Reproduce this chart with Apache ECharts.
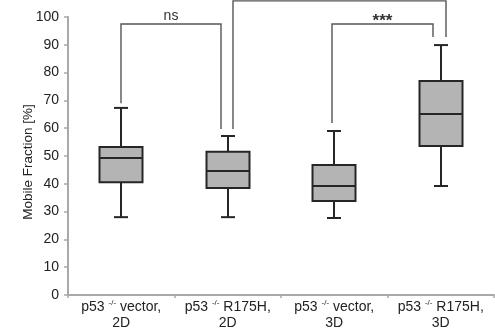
<html>
<head>
<meta charset="utf-8">
<title>Mobile fraction boxplot</title>
<script src="https://cdn.jsdelivr.net/npm/echarts@6/dist/echarts.min.js"></script>
<style>
  body { margin: 0; background-color: #fff }
</style>
</head>
<body>
<div id="main" style="width: 495px; height: 335px;"></div>
<script type="text/javascript">

// values
var genotypes = ['vector', 'R175H', 'vector', 'R175H'];
var cultures = ['2D', '2D', '3D', '3D'];
var whiskerLow = [28, 28, 27.7, 39.2];
var q1 = [40.6, 38.5, 33.8, 53.6];
var medians = [49.3, 44.6, 39.2, 65.1];
var q3 = [53.2, 51.5, 46.8, 77];
var whiskerHigh = [67.3, 57.2, 59, 89.9];

// significance brackets (category indices and heights in %)
var bracketFrom = [0, 1, 2];
var bracketTo = [1, 3, 3];
var bracketLeftFoot = [69, 59.7, 61.9];
var bracketRightFoot = [59.7, 92.8, 92.8];
var bracketTop = [97.5, 105.8, 97.5];
var bracketLabel = ['ns', '', '***'];

// pixel nudges of the bracket legs so they don't overlap
var legShiftL = [0, 5, -2];
var legShiftR = [-7, 5, -8];

var FONT = "'Liberation Sans', Arial, sans-serif";
var AXIS_GREY = '#a9a9a9';
var INK = '#262626';

function renderBox(params, api) {
  var x = api.value(0);
  var pLow = api.coord([x, api.value(1)]);
  var pQ1 = api.coord([x, api.value(2)]);
  var pMed = api.coord([x, api.value(3)]);
  var pQ3 = api.coord([x, api.value(4)]);
  var pHigh = api.coord([x, api.value(5)]);
  var cx = Math.round(pLow[0]);
  var hw = 21.5, cw = 7;
  var st = { stroke: INK, lineWidth: 2 };
  return {
    type: 'group',
    children: [
      { type: 'line', shape: { x1: cx, y1: pHigh[1], x2: cx, y2: pQ3[1] }, style: st },
      { type: 'line', shape: { x1: cx, y1: pQ1[1], x2: cx, y2: pLow[1] }, style: st },
      { type: 'line', shape: { x1: cx - cw, y1: pHigh[1], x2: cx + cw, y2: pHigh[1] }, style: st },
      { type: 'line', shape: { x1: cx - cw, y1: pLow[1], x2: cx + cw, y2: pLow[1] }, style: st },
      { type: 'rect',
        shape: { x: cx - hw, y: pQ3[1], width: hw * 2, height: pQ1[1] - pQ3[1] },
        style: { fill: '#b3b4b3', stroke: INK, lineWidth: 2 } },
      { type: 'line', shape: { x1: cx - hw, y1: pMed[1], x2: cx + hw, y2: pMed[1] }, style: st }
    ]
  };
}

function renderBracket(params, api) {
  var i = params.dataIndex;
  var l = api.coord([api.value(0), api.value(2)]);
  var r = api.coord([api.value(1), api.value(3)]);
  var t = api.coord([api.value(0), api.value(4)]);
  var xl = Math.round(l[0]) + legShiftL[i];
  var xr = Math.round(r[0]) + legShiftR[i];
  var children = [{
    type: 'polyline',
    shape: { points: [[xl, l[1]], [xl, t[1]], [xr, t[1]], [xr, r[1]]] },
    style: { stroke: '#555', lineWidth: 1.4, fill: null }
  }];
  var lab = bracketLabel[i];
  if (lab) {
    var star = lab.indexOf('*') >= 0;
    children.push({
      type: 'text',
      style: {
        text: lab, x: (xl + xr) / 2, y: t[1] + (star ? 6 : -1),
        align: 'center', verticalAlign: 'bottom',
        fontSize: star ? 17 : 14, fontWeight: star ? 'bold' : 'normal',
        fontFamily: FONT, fill: '#333'
      }
    });
  }
  return { type: 'group', children: children };
}

var chart = echarts.init(document.getElementById('main'), null, { renderer: 'canvas' });

var boxData = genotypes.map(function (g, i) {
  return [i, whiskerLow[i], q1[i], medians[i], q3[i], whiskerHigh[i]];
});
var bracketData = bracketFrom.map(function (f, i) {
  return [f, bracketTo[i], bracketLeftFoot[i], bracketRightFoot[i], bracketTop[i]];
});

var option = {
  animation: false,
  grid: { left: 68, right: 1, top: 17, bottom: 40 },
  xAxis: {
    type: 'category',
    data: genotypes.map(function (g, i) { return g + ', ' + cultures[i]; }),
    axisLine: { lineStyle: { color: AXIS_GREY, width: 2 } },
    axisTick: { show: true, length: 3, lineStyle: { color: AXIS_GREY, width: 1.5 } },
    axisLabel: {
      interval: 0,
      margin: 4,
      formatter: function (v, idx) {
        return '{t|p53 }{s|-/-}{t| ' + genotypes[idx] + ',}\n{t|' + cultures[idx] + '}';
      },
      rich: {
        t: { fontSize: 14, lineHeight: 16, color: '#222', fontFamily: FONT },
        s: { fontSize: 8, lineHeight: 16, color: '#222', fontFamily: FONT, verticalAlign: 'top', padding: [0, 0, 6, 0] }
      }
    }
  },
  yAxis: {
    type: 'value',
    min: 0, max: 100, interval: 10,
    name: 'Mobile Fraction [%]',
    nameLocation: 'middle',
    nameGap: 33,
    nameMoveOverlap: false,
    nameTextStyle: { fontSize: 13.5, color: '#222', fontFamily: FONT, padding: [0, 12, 0, 0] },
    splitLine: { show: false },
    axisLine: { show: true, lineStyle: { color: AXIS_GREY, width: 2 } },
    axisTick: { show: true, length: 4, lineStyle: { color: AXIS_GREY, width: 1.5 } },
    axisLabel: { margin: 9, fontSize: 14, color: '#222', fontFamily: FONT }
  },
  series: [
    { type: 'custom', renderItem: renderBox, data: boxData,
      encode: { x: 0, y: [1, 2, 3, 4, 5] }, z: 3 },
    { type: 'custom', renderItem: renderBracket, data: bracketData,
      encode: { x: [0, 1], y: [2, 3, 4] }, clip: false, z: 2 }
  ]
};
chart.setOption(option);

</script>
</body>
</html>
